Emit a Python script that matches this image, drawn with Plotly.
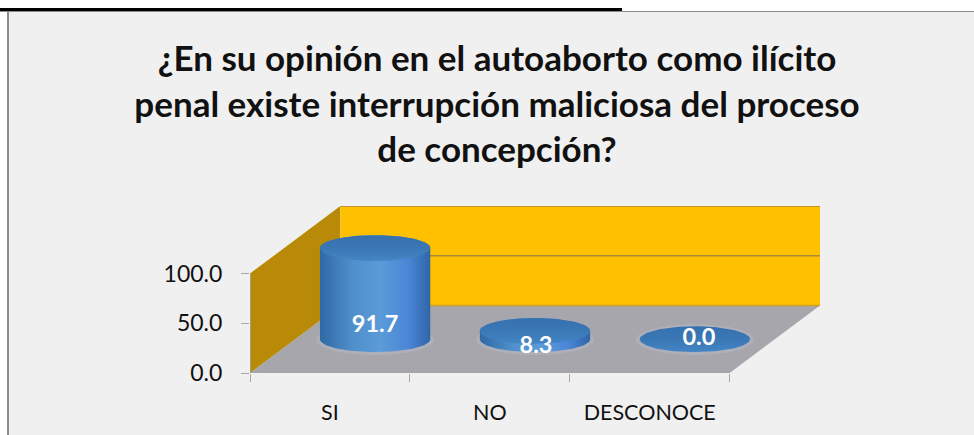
import numpy as np
import plotly.graph_objects as go

# Data
categories = ["SI", "NO", "DESCONOCE"]
values = [91.7, 8.3, 0.0]
value_ticks = [0, 50, 100]
label_offsets = [13, -8, 0]
label_shifts = [0, 0.006, 0.025]
title_lines = [
    "¿En su opinión en el autoaborto como ilícito",
    "penal existe interrupción maliciosa del proceso",
    "de concepción?",
]

# Oblique view, in axis units
DEPTH_X = 0.565
DEPTH_Y = 68
RX = 0.345
RY = 13
n = len(categories)
ymax = value_ticks[-1]
FONT = "Lato"


def poly(pts, color, line=None):
    xs, ys = zip(*pts)
    return go.Scatter(x=list(xs) + [xs[0]], y=list(ys) + [ys[0]], mode="lines", fill="toself",
                      fillcolor=color, line=dict(color=line or color, width=1 if line else 0),
                      hoverinfo="skip", showlegend=False, cliponaxis=False)


def seg(x0, y0, x1, y1, color, width=1):
    return go.Scatter(x=[x0, x1], y=[y0, y1], mode="lines", line=dict(color=color, width=width),
                      hoverinfo="skip", showlegend=False, cliponaxis=False)


fig = go.Figure()
# Floor and walls
fig.add_trace(poly([(0, 0), (n, 0), (n + DEPTH_X, DEPTH_Y), (DEPTH_X, DEPTH_Y)], "#a7a6ac"))
fig.add_trace(poly([(0, 0), (0, ymax), (DEPTH_X, ymax + DEPTH_Y), (DEPTH_X, DEPTH_Y)], "#b88a08"))
fig.add_trace(poly([(DEPTH_X, DEPTH_Y), (n + DEPTH_X, DEPTH_Y), (n + DEPTH_X, ymax + DEPTH_Y), (DEPTH_X, ymax + DEPTH_Y)], "#ffc000"))
for v in value_ticks[1:]:
    fig.add_trace(seg(DEPTH_X, v + DEPTH_Y, n + DEPTH_X, v + DEPTH_Y, "#a98a3a", 1.5))
fig.add_trace(seg(DEPTH_X, DEPTH_Y, n + DEPTH_X, DEPTH_Y, "#c9a227", 1.5))
# Axis lines
fig.add_trace(seg(0, 0, n, 0, "#a6a6a6", 1.5))
fig.add_trace(seg(0, 0, 0, ymax, "#a6a6a6", 1.5))

# Cylinders
theta_front = np.linspace(np.pi, 2 * np.pi, 60)
theta_back = np.linspace(0, np.pi, 60)
theta_all = np.linspace(0, 2 * np.pi, 120)
body_scale = [[0, "#2f6aa5"], [0.3, "#4f8fcb"], [0.55, "#5b9bd8"], [0.8, "#4a86d6"], [1, "#2f66a8"]]
top_scale = [[0, "#4386c6"], [0.45, "#3b78b6"], [1, "#3671ae"]]
for i, v in enumerate(values):
    cx = i + 0.5 + DEPTH_X / 2
    base = DEPTH_Y / 2
    # soft light halo on the floor
    fig.add_trace(go.Scatter(x=cx + 1.07 * RX * np.cos(theta_all), y=base - 0.5 + 1.2 * RY * np.sin(theta_all),
                             mode="lines", fill="toself", fillcolor="rgba(190,195,215,0.3)",
                             line=dict(width=0), hoverinfo="skip", showlegend=False, cliponaxis=False))
    if v > 0:
        xs = list(cx + RX * np.cos(theta_front)) + list(cx + RX * np.cos(theta_back))
        ys = list(base + RY * np.sin(theta_front)) + list(base + v + RY * np.sin(theta_back))
        fig.add_trace(go.Scatter(x=xs + xs[:1], y=ys + ys[:1], mode="lines", fill="toself",
                                 line=dict(width=0), hoverinfo="skip", showlegend=False, cliponaxis=False,
                                 fillgradient=dict(type="horizontal", colorscale=body_scale)))
    fig.add_trace(go.Scatter(x=cx + RX * np.cos(theta_all), y=base + v + RY * np.sin(theta_all),
                             mode="lines", fill="toself",
                             fillgradient=dict(type="vertical", colorscale=top_scale),
                             line=dict(width=0), hoverinfo="skip", showlegend=False, cliponaxis=False))

# Data labels
fig.add_trace(go.Scatter(
    x=[i + 0.5 + DEPTH_X / 2 + s for i, s in enumerate(label_shifts)],
    y=[DEPTH_Y / 2 + o for o in label_offsets],
    mode="text", text=[f"{v:.1f}" for v in values],
    textfont=dict(family=FONT, size=23.5, color="white", weight="bold"),
    textposition="middle center", hoverinfo="skip", showlegend=False, cliponaxis=False))

W, H = 974, 435
ML, MR, MT, MB = 250, 154, 206, 62
PW, PH = W - ML - MR, H - MT - MB


def px(x):
    return (x - ML) / PW


def py(y):
    return (H - MB - y) / PH


fig.update_layout(
    width=W, height=H, autosize=False,
    margin=dict(l=ML, r=MR, t=MT, b=MB, autoexpand=False),
    paper_bgcolor="white", plot_bgcolor="rgba(0,0,0,0)",
    title=dict(text="<br>".join(title_lines), x=497 / W, xanchor="center", y=1 - 71 / H, yanchor="top",
               font=dict(family=FONT, size=35, color="#111111", weight="bold")),
    xaxis=dict(range=[0, n + DEPTH_X], showgrid=False, zeroline=False, showline=False,
               tickmode="array", tickvals=[i + 0.5 for i in range(n)], ticktext=categories,
               ticks="", ticklabelstandoff=24, tickfont=dict(family=FONT, size=21.5, color="#111111"),
               minor=dict(tickmode="array", tickvals=list(range(n + 1)), ticks="outside", ticklen=8,
                          tickcolor="#a6a6a6", tickwidth=1, showgrid=False)),
    yaxis=dict(range=[0, ymax + DEPTH_Y], showgrid=False, zeroline=False, showline=False,
               tickmode="array", tickvals=value_ticks, tickformat=".1f",
               ticks="outside", ticklen=8, tickcolor="#a6a6a6", ticklabelstandoff=14,
               tickfont=dict(family=FONT, size=23, color="#111111")),
    shapes=[
        dict(type="rect", xref="paper", yref="paper", x0=px(8), x1=px(974), y0=py(435), y1=py(12),
             fillcolor="#f0f0f0", line=dict(width=0), layer="below"),
        dict(type="line", xref="paper", yref="paper", x0=px(8), x1=px(8), y0=py(435), y1=py(11),
             line=dict(color="#8c8c8c", width=2), layer="below"),
        dict(type="line", xref="paper", yref="paper", x0=px(0), x1=px(974), y0=py(11.5), y1=py(11.5),
             line=dict(color="#8c8c8c", width=1), layer="below"),
        dict(type="rect", xref="paper", yref="paper", x0=px(0), x1=px(622), y0=py(11), y1=py(8),
             fillcolor="black", line=dict(width=0), layer="below"),
    ],
)

fig.write_html("out.html", config={"displayModeBar": False},
               post_script="document.body.style.margin='0';document.documentElement.style.overflow='hidden';")
